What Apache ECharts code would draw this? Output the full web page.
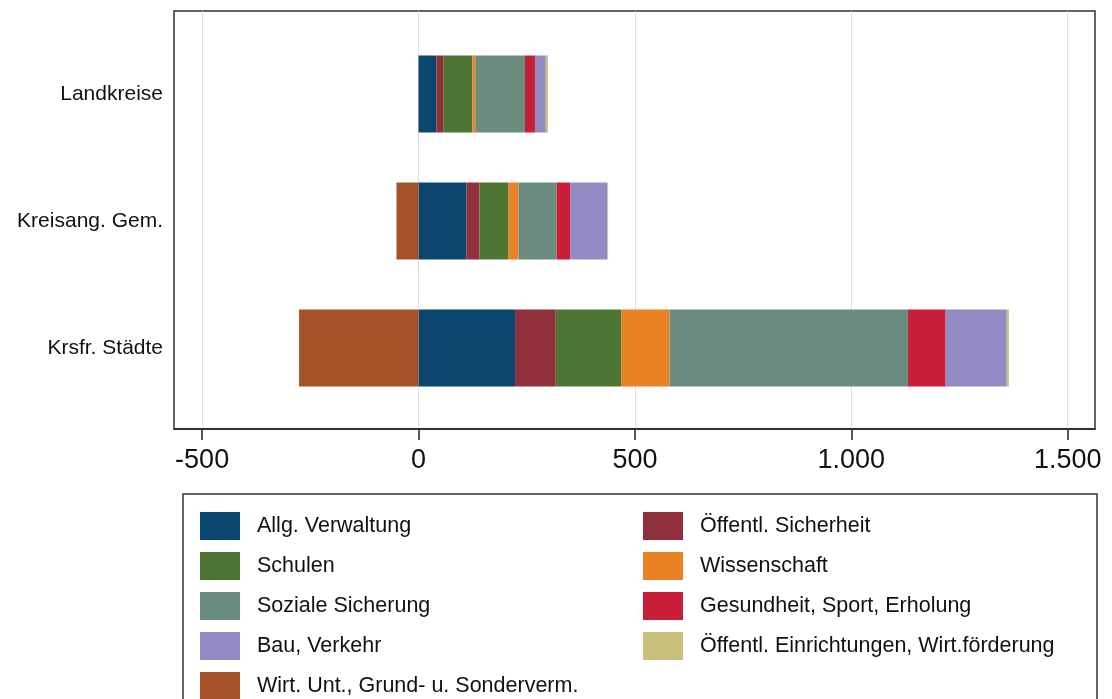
<!DOCTYPE html>
<html>
<head>
<meta charset="utf-8">
<title>Ausgaben nach Aufgabenbereichen</title>
<script src="https://cdn.jsdelivr.net/npm/echarts@6/dist/echarts.min.js"></script>
<style>
  html, body { margin: 0; padding: 0; background: #fff; }
  #chart { width: 1112px; height: 699px; }
</style>
</head>
<body>
<div id="chart"></div>
<script>
// Kategorien (von oben nach unten)
const categories = ['Landkreise', 'Kreisang. Gem.', 'Krsfr. Städte'];

// Werte je Aufgabenbereich, in derselben Reihenfolge wie categories
const allgVerwaltung    = [41, 111, 223];
const oeffSicherheit    = [16, 30, 94];
const schulen           = [67, 67, 152];
const wissenschaft      = [7, 23, 111];
const sozialeSicherung  = [115, 88, 551];
const gesundheit        = [23, 32, 87];
const bauVerkehr        = [25, 85, 141];
const oeffEinrichtungen = [5, 2, 5];
const wirtUnt           = [0, -51, -276];

const tickValues = [-500, 0, 500, 1000, 1500];

const seriesDefs = [
  { name: 'Allg. Verwaltung', data: allgVerwaltung, color: '#0b466f' },
  { name: 'Öffentl. Sicherheit', data: oeffSicherheit, color: '#90303d' },
  { name: 'Schulen', data: schulen, color: '#4f7534' },
  { name: 'Wissenschaft', data: wissenschaft, color: '#ea8123' },
  { name: 'Soziale Sicherung', data: sozialeSicherung, color: '#6a8d80' },
  { name: 'Gesundheit, Sport, Erholung', data: gesundheit, color: '#c81f38' },
  { name: 'Bau, Verkehr', data: bauVerkehr, color: '#958bc4' },
  { name: 'Öffentl. Einrichtungen, Wirt.förderung', data: oeffEinrichtungen, color: '#c9c07b' },
  { name: 'Wirt. Unt., Grund- u. Sonderverm.', data: wirtUnt, color: '#a4522a' }
];

const leftLegend = ['Allg. Verwaltung', 'Schulen', 'Soziale Sicherung', 'Bau, Verkehr', 'Wirt. Unt., Grund- u. Sonderverm.'];
const rightLegend = ['Öffentl. Sicherheit', 'Wissenschaft', 'Gesundheit, Sport, Erholung', 'Öffentl. Einrichtungen, Wirt.förderung'];

const FONT = 'Liberation Sans, Arial, sans-serif';
const X_MIN = -565, X_MAX = 1563;

function fmt(v) {
  return String(v).replace(/\B(?=(\d{3})+(?!\d))/g, '.');
}

const chart = echarts.init(document.getElementById('chart'));

const legendText = {
  fontFamily: FONT,
  fontSize: 21.5,
  color: '#111',
  padding: [0, 0, 0, 12]
};

const option = {
  animation: false,
  backgroundColor: '#fff',
  grid: [
    // Rahmen + x-Achse
    { left: 174, right: 17, top: 11, bottom: 270, show: true, borderColor: '#333', borderWidth: 1.5, backgroundColor: '#fff' },
    // Balkenbereich
    { left: 174, right: 17, top: 30.5, bottom: 287.5 }
  ],
  xAxis: [
    {
      gridIndex: 0,
      type: 'value',
      min: X_MIN,
      max: X_MAX,
      axisLine: { show: true, lineStyle: { color: '#222', width: 1.5 } },
      axisTick: { show: true, inside: false, length: 11, customValues: tickValues, lineStyle: { color: '#222', width: 1.5 } },
      axisLabel: {
        customValues: tickValues,
        formatter: fmt,
        fontFamily: FONT,
        fontSize: 27,
        color: '#111',
        margin: 18
      },
      splitLine: { show: true, lineStyle: { color: '#cfe3ee', width: 1 } }
    },
    {
      gridIndex: 1,
      type: 'value',
      min: X_MIN,
      max: X_MAX,
      show: false
    }
  ],
  yAxis: [
    { gridIndex: 0, type: 'value', show: false },
    {
      gridIndex: 1,
      type: 'category',
      inverse: true,
      data: categories,
      axisLine: { show: false },
      axisTick: { show: false },
      axisLabel: { fontFamily: FONT, fontSize: 21, color: '#111', margin: 11 }
    }
  ],
  legend: [
    {
      left: 195, top: 507, width: 400, height: 240, orient: 'vertical',
      itemWidth: 40, itemHeight: 28, itemGap: 12,
      icon: 'rect', selectedMode: false,
      textStyle: legendText,
      data: leftLegend
    },
    {
      left: 638, top: 507, width: 440, height: 240, orient: 'vertical',
      itemWidth: 40, itemHeight: 28, itemGap: 12,
      icon: 'rect', selectedMode: false,
      textStyle: legendText,
      data: rightLegend
    }
  ],
  graphic: [
    {
      type: 'rect',
      shape: { x: 183, y: 494, width: 914, height: 230 },
      style: { fill: 'none', stroke: '#333', lineWidth: 1.5 },
      silent: true
    }
  ],
  series: seriesDefs.map(s => ({
    name: s.name,
    type: 'bar',
    xAxisIndex: 1,
    yAxisIndex: 1,
    stack: 'total',
    barWidth: 77,
    itemStyle: { color: s.color },
    emphasis: { disabled: true },
    data: s.data
  }))
};

chart.setOption(option);
</script>
</body>
</html>
